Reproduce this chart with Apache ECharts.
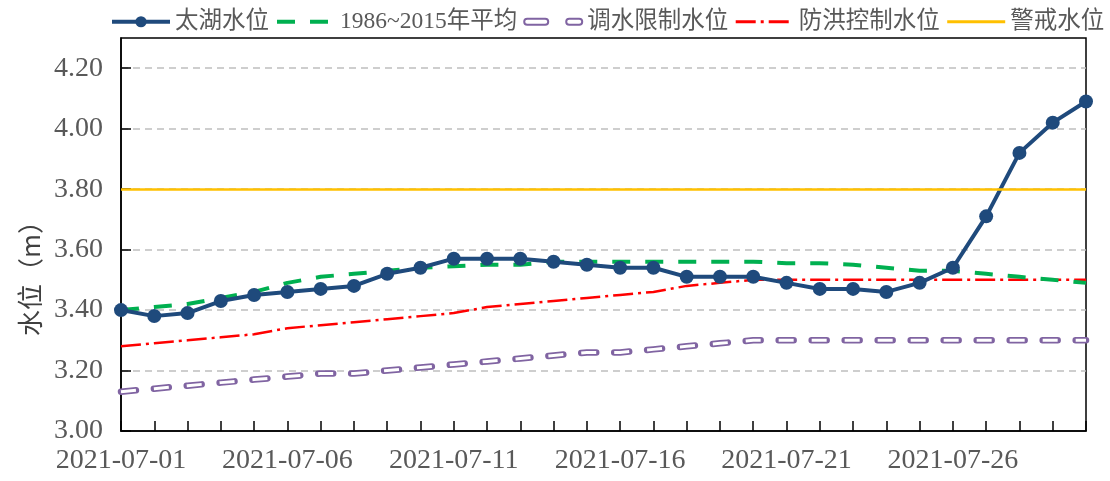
<!DOCTYPE html>
<html>
<head>
<meta charset="utf-8">
<script src="https://cdn.jsdelivr.net/npm/echarts@6/dist/echarts.min.js"></script>
<style>
  html, body { margin: 0; padding: 0; background: #fff; }
  #chart { width: 1110px; height: 481px; }
</style>
</head>
<body>
<div id="chart"></div>
<script>
  // 日期
  var dates = ['2021-07-01','2021-07-02','2021-07-03','2021-07-04','2021-07-05','2021-07-06','2021-07-07','2021-07-08','2021-07-09','2021-07-10',
               '2021-07-11','2021-07-12','2021-07-13','2021-07-14','2021-07-15','2021-07-16','2021-07-17','2021-07-18','2021-07-19','2021-07-20',
               '2021-07-21','2021-07-22','2021-07-23','2021-07-24','2021-07-25','2021-07-26','2021-07-27','2021-07-28','2021-07-29','2021-07-30'];
  // 太湖水位
  var taihu = [3.40,3.38,3.39,3.43,3.45,3.46,3.47,3.48,3.52,3.54,
               3.57,3.57,3.57,3.56,3.55,3.54,3.54,3.51,3.51,3.51,
               3.49,3.47,3.47,3.46,3.49,3.54,3.71,3.92,4.02,4.09];
  // 1986~2015年平均
  var avg = [3.40,3.41,3.42,3.44,3.46,3.49,3.51,3.52,3.53,3.54,
             3.545,3.55,3.55,3.56,3.56,3.56,3.56,3.56,3.56,3.56,
             3.555,3.555,3.55,3.54,3.53,3.53,3.52,3.51,3.50,3.49];
  // 调水限制水位
  var limit = [3.13,3.14,3.15,3.16,3.17,3.18,3.19,3.19,3.20,3.21,
               3.22,3.23,3.24,3.25,3.26,3.26,3.27,3.28,3.29,3.30,
               3.30,3.30,3.30,3.30,3.30,3.30,3.30,3.30,3.30,3.30];
  // 防洪控制水位
  var flood = [3.28,3.29,3.30,3.31,3.32,3.34,3.35,3.36,3.37,3.38,
               3.39,3.41,3.42,3.43,3.44,3.45,3.46,3.48,3.49,3.50,
               3.50,3.50,3.50,3.50,3.50,3.50,3.50,3.50,3.50,3.50];
  // 警戒水位
  var warnLevel = 3.80;

  var serif = '"Liberation Serif", "Noto Sans CJK SC", serif';
  // 图例里不显示圆点
  var noDot = { opacity: 0, color: 'rgba(0,0,0,0)', borderWidth: 0 };
  // 空心短线图例
  var hollowIcon = 'path://M3 0H21A3 3 0 0 1 21 6H3A3 3 0 0 1 3 0ZM45 0H55A3 3 0 0 1 55 6H45A3 3 0 0 1 45 0Z';

  var myChart = echarts.init(document.getElementById('chart'));
  var option = {
    animation: false,
    backgroundColor: '#fff',
    legend: {
      left: 110,
      top: 10,
      width: 1000,
      padding: 0,
      itemWidth: 58,
      itemHeight: 14,
      itemGap: 6,
      textStyle: { fontFamily: serif, fontSize: 23.5, color: '#595959' },
      data: [
        { name: '太湖水位', lineStyle: { width: 4 } },
        { name: '1986~2015年平均', itemStyle: noDot, lineStyle: { width: 4 } },
        { name: '调水限制水位', icon: hollowIcon, itemStyle: { color: '#fff', borderColor: '#8064A2', borderWidth: 2 } },
        { name: '防洪控制水位', itemStyle: noDot, lineStyle: { width: 3 } },
        { name: '警戒水位', itemStyle: noDot, lineStyle: { width: 3 } }
      ]
    },
    grid: {
      left: 121, right: 24, top: 38, bottom: 50,
      show: true, borderColor: '#000', borderWidth: 1.5
    },
    graphic: [{
      type: 'text',
      x: 30, y: 272,
      rotation: Math.PI / 2,
      style: {
        text: '水位（m）',
        font: '26px "Noto Sans CJK SC"',
        fill: '#404040',
        align: 'center',
        verticalAlign: 'middle'
      }
    }],
    xAxis: {
      type: 'category',
      data: dates,
      boundaryGap: false,
      axisLine: { lineStyle: { color: '#000', width: 1.5 } },
      axisTick: { show: true, inside: true, length: 10, interval: 0, lineStyle: { color: '#000', width: 1.5 } },
      axisLabel: {
        interval: 4,
        margin: 16,
        fontFamily: serif,
        fontSize: 28,
        color: '#595959'
      },
      splitLine: { show: false }
    },
    yAxis: {
      type: 'value',
      min: 3.0,
      max: 4.3,
      interval: 0.2,
      axisLine: { show: true, lineStyle: { color: '#000', width: 1.5 } },
      axisTick: { show: true, inside: true, length: 10, lineStyle: { color: '#000', width: 1.5 } },
      axisLabel: {
        margin: 18,
        fontFamily: serif,
        fontSize: 28,
        color: '#595959',
        showMaxLabel: false,
        formatter: function (v) { return v > 4.25 ? '' : v.toFixed(2); }
      },
      splitLine: { showMaxLine: false, showMinLine: false, lineStyle: { color: '#BFBFBF', width: 1.5, type: [7, 5] } }
    },
    series: [
      {
        name: '调水限制水位',
        type: 'line',
        data: limit,
        symbol: 'none',
        itemStyle: { color: '#8064A2' },
        lineStyle: { color: '#8064A2', width: 6.5, type: [15, 18], cap: 'round' }
      },
      {
        // 空心效果
        name: '_limitInner',
        type: 'line',
        data: limit,
        symbol: 'none',
        silent: true,
        itemStyle: { color: '#fff' },
        lineStyle: { color: '#fff', width: 3, type: [15, 18], cap: 'butt' }
      },
      {
        name: '防洪控制水位',
        type: 'line',
        data: flood,
        symbol: 'none',
        itemStyle: { color: '#FF0000' },
        lineStyle: { color: '#FF0000', width: 2.5, type: [20, 5, 3, 5] }
      },
      {
        name: '1986~2015年平均',
        type: 'line',
        data: avg,
        symbol: 'none',
        itemStyle: { color: '#00B050' },
        lineStyle: { color: '#00B050', width: 4, type: [18, 15] }
      },
      {
        name: '警戒水位',
        type: 'line',
        data: [],
        symbol: 'none',
        itemStyle: { color: '#FFC000' },
        lineStyle: { color: '#FFC000', width: 2.5 },
        markLine: {
          silent: true,
          symbol: 'none',
          label: { show: false },
          lineStyle: { color: '#FFC000', width: 2.5, type: 'solid' },
          data: [{ yAxis: warnLevel }]
        }
      },
      {
        name: '太湖水位',
        type: 'line',
        data: taihu,
        symbol: 'circle',
        symbolSize: 14,
        itemStyle: { color: '#1F4A7C' },
        lineStyle: { color: '#1F4A7C', width: 4 }
      }
    ]
  };
  myChart.setOption(option, true);
</script>
</body>
</html>
